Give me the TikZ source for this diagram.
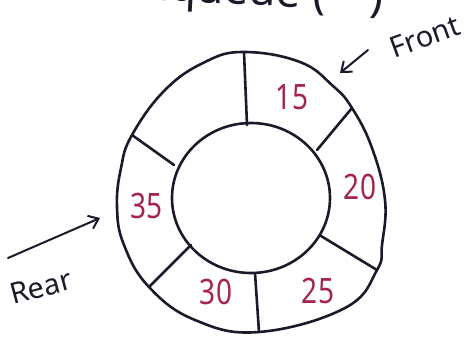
\documentclass[tikz,border=0pt]{standalone}
\usepackage{fontspec}
\setsansfont{Noto Sans}
\definecolor{ink}{HTML}{1A1A2A}
\definecolor{num}{HTML}{A3244F}
\tikzset{
  ring/.style={draw=ink, line width=2.6pt, line join=round, line cap=round},
  numlbl/.style={text=num, font=\sffamily\fontsize{35}{35}\selectfont, xscale=0.8, inner sep=0pt},
  handlbl/.style={text=ink, font=\sffamily\fontsize{29}{29}\selectfont, inner sep=0pt},
  arr/.style={draw=ink, line width=2pt, line cap=round, -{Straight Barb[length=9pt,width=14pt]}}
}
\usetikzlibrary{arrows.meta}
\begin{document}
\begin{tikzpicture}[x=1pt,y=-1pt]
\useasboundingbox (0,0) rectangle (475,349);
\clip (0,0) rectangle (475,349);
% clipped title at top
\node[handlbl, anchor=base west, rotate=-3, font=\sffamily\fontsize{44}{44}\selectfont] (title) at (118,-2) {Enqueue (\quad)};
% outer ring
\draw[ring] plot[smooth cycle, tension=0.7] coordinates {
 (244,52) (300,62) (333,86) (352,108) (372,148) (385,200) (382,245) (377,270)
 (345,308) (259,332) (195,320) (149,287) (124,245) (117,207) (121,168) (132,135) (165,90) (205,62)};
% inner circle
\draw[ring] (251,198) ellipse [x radius=79, y radius=75];
% dividers
\coordinate (o1) at (244,52);  \coordinate (i1) at (247,125);
\coordinate (o2) at (352,108); \coordinate (i2) at (317,150);
\coordinate (o3) at (377,270); \coordinate (i3) at (321,236);
\coordinate (o4) at (259,332); \coordinate (i4) at (255,273);
\coordinate (o5) at (149,287); \coordinate (i5) at (191,245);
\coordinate (o6) at (132,135); \coordinate (i6) at (174,165);
\draw[ring] (o1) -- (i1);
\draw[ring] (o2) -- (i2);
\draw[ring] (o3) -- (i3);
\draw[ring] (o4) -- (i4);
\draw[ring] (o5) -- (i5);
\draw[ring] (o6) -- (i6);
% numbers
\node[numlbl] (n15) at (292,97) {15};
\node[numlbl] (n20) at (360,187) {20};
\node[numlbl] (n25) at (318,291) {25};
\node[numlbl] (n30) at (216,292) {30};
\node[numlbl] (n35) at (147,206) {35};
% Front
\node[handlbl, rotate=20] (front) at (425,37) {Front};
\coordinate (fs) at (368,50);
\coordinate (ft) at (340,73);
\draw[arr] (fs) -- (ft);
% Rear
\node[handlbl, rotate=15] (rear) at (41,287) {Rear};
\coordinate (rs) at (8,258);
\coordinate (rt) at (100,218);
\draw[arr] (rs) -- (rt);
\end{tikzpicture}
\end{document}
